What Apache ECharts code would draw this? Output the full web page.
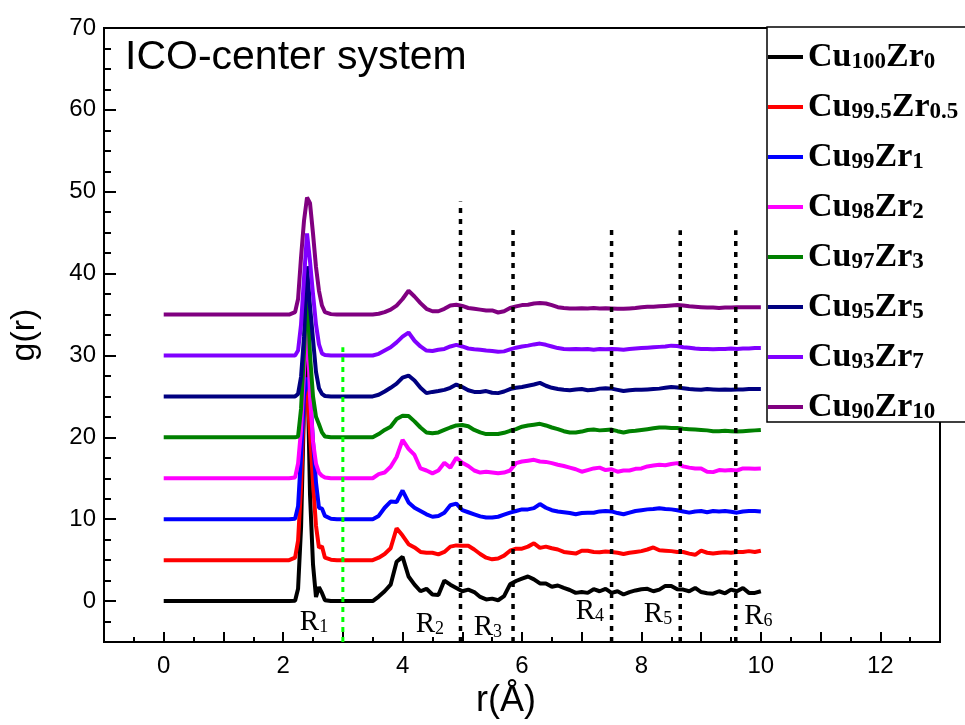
<!DOCTYPE html>
<html>
<head>
<meta charset="utf-8">
<script src="https://cdn.jsdelivr.net/npm/echarts/dist/echarts.min.js"></script>
<style>
  html, body { margin: 0; padding: 0; background: #fff; }
  #chart { width: 965px; height: 725px; }
</style>
</head>
<body>
<div id="chart"></div>
<script>
// r grid (Å), shared by all curves
const r = [
  0, 1, 2, 2.1, 2.2, 2.25, 2.3, 2.35, 2.4, 2.45, 2.5, 2.55, 2.6, 2.65, 2.7, 2.8, 2.9,
  3.0, 3.1, 3.2, 3.3, 3.4, 3.5, 3.6, 3.7, 3.8, 3.9,
  4.0, 4.1, 4.2, 4.3, 4.4, 4.5, 4.6, 4.7, 4.8, 4.9,
  5.0, 5.1, 5.2, 5.3, 5.4, 5.5, 5.6, 5.7, 5.8, 5.9,
  6.0, 6.1, 6.2, 6.3, 6.4, 6.5, 6.6, 6.7, 6.8, 6.9,
  7.0, 7.1, 7.2, 7.3, 7.4, 7.5, 7.6, 7.7, 7.8, 7.9,
  8.0, 8.1, 8.2, 8.3, 8.4, 8.5, 8.6, 8.7, 8.8, 8.9,
  9.0, 9.1, 9.2, 9.3, 9.4, 9.5, 9.6, 9.7, 9.8, 9.9,
  10.0
];

// g(r) of each alloy, before the vertical shift
const gCu100Zr0 = [
  0, 0, 0, 0, 0.05, 1.5, 9.0, 24, 31, 13, 4.5, 0.5, 1.7, 1.0, 0.1, 0, 0,
  0, 0, 0, 0, 0, 0, 0.55, 1.2, 2.0, 4.8,
  5.4, 3.0, 2.0, 1.2, 1.5, 0.8, 0.75, 2.5, 2.0, 1.6,
  1.2, 1.4, 1.1, 0.5, 0.2, 0.3, 0.1, 0.6, 2.05, 2.45,
  2.75, 3.0, 2.65, 2.15, 2.15, 1.75, 1.9, 1.6, 1.35, 1.0,
  1.1, 1.0, 1.45, 1.2, 1.5, 1.0, 1.2, 0.8, 1.1, 1.3,
  1.45, 1.5, 1.2, 1.4, 1.85, 1.85, 1.45, 1.4, 1.2, 1.6,
  1.1, 0.95, 0.9, 1.2, 0.95, 1.4, 1.2, 1.6, 1.0, 1.0,
  1.2
];
const gCu995Zr05 = [
  0, 0, 0, 0, 0.3, 2.4, 9.0, 19.5, 21, 15.5, 9.5, 4.2, 1.5, 1.7, 0.3, 0.05, 0,
  0, 0, 0, 0, 0, 0, 0.3, 0.75, 1.45, 3.9,
  3.0, 1.95, 1.55, 1.0, 0.9, 0.9, 0.7, 1.0, 1.65, 1.8,
  1.75, 1.75, 1.3, 0.75, 0.3, 0.1, 0.2, 0.55, 1.15, 1.4,
  1.4, 1.65, 2.05, 1.5, 1.65, 1.45, 1.3, 1.0, 0.9, 0.8,
  1.15, 1.15, 1.0, 0.95, 1.05, 1.0, 0.9, 0.75, 0.9, 1.0,
  1.1, 1.3, 1.55, 1.2, 1.15, 1.1, 1.0, 1.0, 0.8, 0.65,
  1.15, 0.9, 0.8, 0.9, 0.95, 0.9, 1.0, 1.0, 1.1, 1.0,
  1.15
];
const gCu99Zr1 = [
  0, 0, 0, 0, 0.05, 1.6, 7.8, 15.0, 17.3, 15.5, 9.5, 4.5, 1.4, 1.3, 0.4, 0.05, 0,
  0, 0, 0, 0, 0, 0, 0.4, 1.4, 2.15, 2.1,
  3.5, 2.05, 1.4, 1.0, 0.6, 0.3, 0.4, 0.8, 1.7, 1.9,
  1.1, 0.85, 0.6, 0.35, 0.2, 0.2, 0.3, 0.55, 0.8, 1.0,
  1.2, 1.2, 1.35, 1.85, 1.4, 1.1, 0.95, 0.85, 0.75, 0.6,
  0.75, 0.8, 0.78, 0.95, 1.0, 0.95, 0.75, 0.6, 0.8, 1.0,
  1.1, 1.2, 1.25, 1.35, 1.25, 1.2, 1.1, 0.95, 0.8, 0.95,
  1.0, 0.85, 1.0, 0.95, 1.0, 0.9, 0.8, 0.95, 1.0, 1.0,
  0.95
];
const gCu98Zr2 = [
  0, 0, 0, 0, 0.1, 1.8, 5.9, 13, 20, 10, 4.5, 1.8, 0.7, 0.3, 0.1, 0, 0,
  0, 0, 0, 0, 0, 0, 0.5, 0.7, 1.4, 2.6,
  4.7, 3.6, 2.85, 1.2, 0.95, 0.6, 0.95, 1.9, 1.3, 2.5,
  1.9, 1.5, 0.95, 0.7, 0.8, 0.7, 0.6, 0.7, 0.95, 1.85,
  2.05, 2.15, 2.25, 2.05, 2.0, 1.85, 1.65, 1.5, 1.3, 1.1,
  0.8, 1.0, 1.2, 1.3, 1.0, 1.1, 0.8, 0.95, 0.95, 1.15,
  1.2, 1.45, 1.55, 1.65, 1.6, 1.75, 1.85, 1.45, 1.3, 1.2,
  1.2, 0.8, 0.75, 1.0, 0.95, 1.0, 0.95, 1.2, 1.2, 1.15,
  1.2
];
const gCu97Zr3 = [
  0, 0, 0, 0, 0, 0.1, 3.5, 10.5, 18.8, 10, 5.0, 2.5, 1.6, 0.6, 0.1, 0, 0,
  0, 0, 0, 0, 0, 0, 0.4, 0.9, 1.3, 2.25,
  2.65, 2.6, 1.95, 1.2, 0.6, 0.5, 0.6, 0.9, 1.2, 1.45,
  1.5, 1.35, 0.9, 0.6, 0.4, 0.4, 0.4, 0.55, 0.8, 1.0,
  1.3, 1.45, 1.55, 1.65, 1.45, 1.2, 1.0, 0.75, 0.6, 0.6,
  0.7, 0.9, 0.95, 0.85, 0.9, 0.95, 0.75, 0.6, 0.75, 0.8,
  0.9, 1.0, 1.1, 1.2, 1.2, 1.15, 1.15, 1.05, 1.0, 0.95,
  0.9, 0.85, 0.75, 0.75, 0.8, 0.75, 0.7, 0.75, 0.8, 0.85,
  0.9
];
const gCu95Zr5 = [
  0, 0, 0, 0, 0, 0.3, 2.4, 7.3, 15.9, 11.0, 7.0, 3.0, 1.0, 0.3, 0.05, 0, 0,
  0, 0, 0, 0, 0, 0, 0.2, 0.6, 1.05, 1.55,
  2.3, 2.55, 1.95, 1.05, 0.4, 0.55, 0.65, 0.8, 1.05, 1.45,
  1.15, 0.75, 0.55, 0.55, 0.65, 0.45, 0.4, 0.6, 0.9, 1.05,
  1.15, 1.3, 1.45, 1.65, 1.3, 1.05, 0.9, 0.8, 0.75, 0.85,
  0.9, 0.75, 0.8, 0.95, 1.0, 0.95, 0.8, 0.65, 0.75, 0.8,
  0.8, 0.85, 0.9, 0.95, 1.05, 1.15, 1.1, 1.0, 0.9, 0.85,
  0.8, 0.9, 0.85, 0.8, 0.85, 0.8, 0.85, 0.85, 0.9, 0.9,
  0.9
];
const gCu93Zr7 = [
  0, 0, 0, 0, 0, 0.6, 3.8, 9.5, 14.9, 11.5, 7.5, 3.8, 1.35, 0.25, 0.05, 0, 0,
  0, 0, 0, 0, 0, 0, 0.2, 0.6, 1.0, 1.6,
  2.3, 2.8, 1.8, 1.1, 0.6, 0.55, 0.7, 0.8, 1.1, 1.3,
  1.1, 0.85, 0.75, 0.7, 0.6, 0.55, 0.45, 0.5, 0.75, 0.95,
  1.1, 1.2, 1.35, 1.45, 1.3, 1.1, 0.9, 0.8, 0.75, 0.8,
  0.75, 0.78, 0.7, 0.78, 0.75, 0.8, 0.75, 0.7, 0.8, 0.85,
  0.9, 0.95, 1.0, 1.05, 1.1, 1.2, 1.15, 1.0, 0.95, 0.85,
  0.8, 0.8, 0.75, 0.8, 0.8, 0.85, 0.8, 0.85, 0.85, 0.9,
  0.9
];
const gCu90Zr10 = [
  0, 0, 0, 0, 0.3, 1.9, 7.0, 11.5, 14.3, 13.6, 9.9, 5.8, 2.9, 1.1, 0.3, 0.05, 0,
  0, 0, 0, 0, 0, 0, 0.1, 0.3, 0.6, 1.1,
  1.9, 2.9, 2.2, 1.4, 0.7, 0.4, 0.4, 0.7, 1.1, 1.2,
  1.05, 0.8, 0.7, 0.6, 0.5, 0.5, 0.25, 0.4, 0.8, 1.0,
  1.15, 1.2, 1.35, 1.4, 1.35, 1.15, 0.9, 0.8, 0.75, 0.75,
  0.78, 0.75, 0.8, 0.75, 0.78, 0.75, 0.7, 0.7, 0.75, 0.8,
  0.9, 0.95, 0.95, 1.0, 1.05, 1.1, 1.15, 1.1, 1.0, 0.95,
  0.9, 0.85, 0.85, 0.8, 0.85, 0.85, 0.9, 0.9, 0.9, 0.9,
  0.9
];

const names = ['Cu100Zr0', 'Cu99.5Zr0.5', 'Cu99Zr1', 'Cu98Zr2', 'Cu97Zr3', 'Cu95Zr5', 'Cu93Zr7', 'Cu90Zr10'];
const curves = [gCu100Zr0, gCu995Zr05, gCu99Zr1, gCu98Zr2, gCu97Zr3, gCu95Zr5, gCu93Zr7, gCu90Zr10];
const shifts = [0, 5, 10, 15, 20, 25, 30, 35];
const colors = ['#000000', '#ff0000', '#0000ff', '#ff00ff', '#008000', '#000080', '#8000ff', '#800080'];

// dotted shell boundaries
const shellR = [4.97, 5.85, 7.5, 8.65, 9.58];
const shellTop = [48.8, 45.8, 45.8, 45.3, 45.3];
const firstMinR = 3.0;
const firstMinTop = 31;

// R1..R6 annotations
const shellLabels = ['1', '2', '3', '4', '5', '6'];
const shellLabelR = [2.28, 4.22, 5.19, 6.9, 8.04, 9.72];
const shellLabelG = [-1.85, -2.1, -2.45, -0.5, -0.85, -1.1];

const yBottom = -5;

const series = [];
curves.forEach((g, i) => {
  series.push({
    name: names[i],
    type: 'line',
    data: r.map((x, k) => [x, g[k] + shifts[i]]),
    symbol: 'none',
    color: colors[i],
    lineStyle: { width: 4, color: colors[i] },
    z: 2
  });
});

shellR.forEach((x, i) => {
  series.push({
    type: 'line',
    data: [[x, yBottom], [x, shellTop[i]]],
    symbol: 'none',
    lineStyle: { color: '#000', width: 3.5, type: [5, 6] },
    z: 3
  });
});

series.push({
  type: 'line',
  data: [[firstMinR, yBottom], [firstMinR, firstMinTop]],
  symbol: 'none',
  lineStyle: { color: '#00ff00', width: 3, type: [5, 5] },
  z: 3
});

series.push({
  type: 'scatter',
  data: shellLabelR.map((x, i) => [x, shellLabelG[i]]),
  symbolSize: 0,
  itemStyle: { color: '#000', opacity: 1 },
  label: {
    show: true,
    position: 'right',
    distance: 0,
    offset: [0, 6],
    color: '#000',
    formatter: p => '{R|R}{s|' + shellLabels[p.dataIndex] + '}',
    rich: {
      R: { fontFamily: 'Liberation Serif', fontSize: 29, lineHeight: 28, verticalAlign: 'top', color: '#000' },
      s: { fontFamily: 'Liberation Serif', fontSize: 18, lineHeight: 16, verticalAlign: 'bottom', padding: [22, 0, 0, 0], color: '#000' }
    }
  },
  z: 4
});

const chart = echarts.init(document.getElementById('chart'), null, { renderer: 'canvas' });

chart.setOption({
  animation: false,
  backgroundColor: '#fff',
  title: {
    text: 'ICO-center system',
    left: 125,
    top: 37,
    padding: 0,
    textStyle: { fontFamily: 'Liberation Sans', fontSize: 41, fontWeight: 'normal', color: '#000' }
  },
  legend: {
    data: names,
    orient: 'vertical',
    left: 768,
    top: 40,
    padding: 0,
    itemGap: 16,
    itemWidth: 35,
    itemHeight: 4,
    icon: 'rect',
    selectedMode: false,
    z: 20,
    formatter: name => name.replace(/[A-Za-z]+/g, m => '{b|' + m + '}').replace(/[\d.]+/g, m => '{s|' + m + '}'),
    textStyle: {
      rich: {
        b: { fontFamily: 'Liberation Serif', fontWeight: 'bold', fontSize: 34, lineHeight: 34, color: '#000' },
        s: { fontFamily: 'Liberation Serif', fontWeight: 'bold', fontSize: 23, lineHeight: 19, verticalAlign: 'bottom', color: '#000' }
      }
    }
  },
  graphic: [{
    type: 'rect',
    shape: { x: 767, y: 27, width: 260, height: 395 },
    style: { fill: '#fff', stroke: '#000', lineWidth: 1.5 },
    z: 10
  }],
  grid: {
    left: 103, right: 25, top: 28, bottom: 83,
    show: true, borderColor: '#000', borderWidth: 2, backgroundColor: 'transparent'
  },
  xAxis: {
    type: 'value',
    min: -1, max: 13, interval: 1,
    name: 'r(Å)',
    nameLocation: 'middle',
    nameGap: 38,
    nameTextStyle: { fontFamily: 'Liberation Sans', fontSize: 36, color: '#000', padding: [0, 32, 0, 0] },
    axisLine: { onZero: false, lineStyle: { color: '#000', width: 2 } },
    axisTick: { inside: true, length: 10, lineStyle: { color: '#000', width: 2 } },
    minorTick: { show: true, splitNumber: 2, length: 5, lineStyle: { color: '#000', width: 2 } },
    axisLabel: {
      margin: 12,
      fontFamily: 'Liberation Sans', fontSize: 24, color: '#000',
      formatter: v => (v >= 0 && v <= 12 && v % 2 === 0) ? String(v) : ''
    },
    splitLine: { show: false },
    minorSplitLine: { show: false }
  },
  yAxis: {
    type: 'value',
    min: -5, max: 70, splitNumber: 8,
    name: 'g(r)',
    nameLocation: 'middle',
    nameGap: 62,
    nameRotate: 90,
    nameTextStyle: { fontFamily: 'Liberation Sans', fontSize: 34, color: '#000' },
    axisLine: { onZero: false, lineStyle: { color: '#000', width: 2 } },
    axisTick: { inside: true, length: 12, lineStyle: { color: '#000', width: 2 } },
    minorTick: { show: true, splitNumber: 4, length: 7, lineStyle: { color: '#000', width: 2 } },
    axisLabel: {
      margin: 8,
      fontFamily: 'Liberation Sans', fontSize: 24, color: '#000',
      formatter: v => (v >= 0 && v % 10 === 0) ? String(v) : ''
    },
    splitLine: { show: false },
    minorSplitLine: { show: false }
  },
  series: series
});
</script>
</body>
</html>
